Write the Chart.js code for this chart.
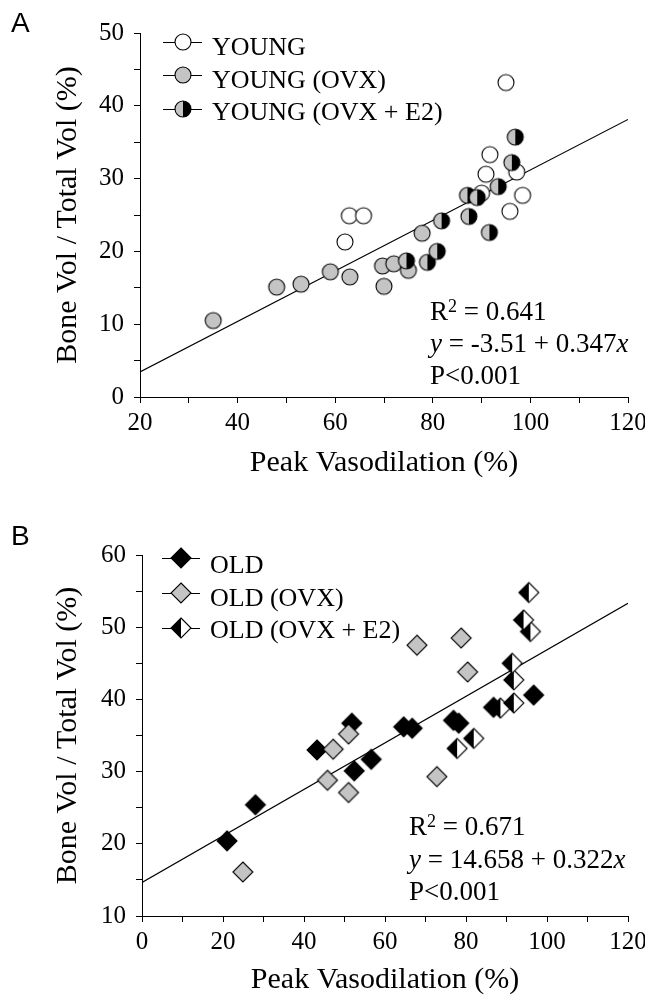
<!DOCTYPE html>
<html><head><meta charset="utf-8">
<script src="https://cdn.jsdelivr.net/npm/chart.js@4.4.1/dist/chart.umd.min.js"></script>
<style>
html,body{margin:0;padding:0;background:#fff;}
#wrap{position:relative;width:645px;height:1006px;overflow:hidden;}
#cA{position:absolute;left:0;top:0;}
#cB{position:absolute;left:0;top:500px;}
</style></head><body>
<div id="wrap"><canvas id="cA" width="645" height="500"></canvas><canvas id="cB" width="645" height="506"></canvas></div>
<script>
// ---------- Panel A data ----------
const youngX    = [62.0, 62.9, 65.8, 90.0, 90.9, 91.7, 95.0, 95.8, 97.2, 98.4];
const youngY    = [21.3, 24.9, 24.9, 28.0, 30.6, 33.3, 43.2, 25.5, 30.9, 27.7];
const youngOvxX = [35.0, 48.0, 53.0, 59.0, 63.0, 69.7, 70.0, 72.0, 75.0, 77.8];
const youngOvxY = [10.5, 15.1, 15.5, 17.2, 16.5, 18.0, 15.2, 18.3, 17.4, 22.5];
const youngE2X  = [74.6, 78.9, 80.9, 81.8, 87.4, 87.1, 89.1, 91.6, 93.4, 96.2, 96.9];
const youngE2Y  = [18.7, 18.5, 20.0, 24.2, 24.8, 27.7, 27.4, 22.6, 28.9, 32.2, 35.7];
const fitAX = [20, 120];
const fitAY = [3.43, 38.13];
const xTicksA = [20, 40, 60, 80, 100, 120];
const yTicksA = [0, 10, 20, 30, 40, 50];
const legendA = ['YOUNG', 'YOUNG (OVX)', 'YOUNG (OVX + E2)'];
const statsA = ['0.641', '-3.51', '0.347', 'P<0.001'];

// ---------- Panel B data ----------
const oldX    = [21.0, 28.0, 43.2, 51.8, 52.4, 56.6, 64.6, 66.7, 76.9, 78.2, 86.8, 96.7];
const oldY    = [20.4, 25.4, 33.0, 36.7, 30.1, 31.7, 36.2, 36.0, 37.1, 36.7, 38.9, 40.6];
const oldOvxX = [24.9, 45.8, 47.2, 51.0, 51.0, 72.8, 67.9, 78.8, 80.4];
const oldOvxY = [16.1, 28.8, 33.1, 35.2, 27.1, 29.3, 47.5, 48.5, 43.8];
const oldE2X  = [77.8, 81.9, 88.5, 91.8, 91.8, 91.4, 95.9, 94.2, 95.5];
const oldE2Y  = [33.2, 34.6, 38.8, 39.5, 42.7, 45.0, 49.4, 51.0, 54.8];
const fitBX = [0, 120];
const fitBY = [14.66, 53.30];
const xTicksB = [0, 20, 40, 60, 80, 100, 120];
const yTicksB = [10, 20, 30, 40, 50, 60];
const legendB = ['OLD', 'OLD (OVX)', 'OLD (OVX + E2)'];
const statsB = ['0.671', '14.658', '0.322', 'P<0.001'];

const SERIF = '"Liberation Serif", "Times New Roman", serif';
Chart.defaults.font.family = SERIF;
Chart.defaults.color = '#000';

const GRAY = '#c4c4c4';
function markerImg(shape, r, left, right) {
  const s = 2 * r + 4;
  const c = document.createElement('canvas');
  c.width = s; c.height = s;
  const g = c.getContext('2d');
  const m = s / 2;
  const path = () => {
    g.beginPath();
    if (shape === 'circle') g.arc(m, m, r, 0, 2 * Math.PI);
    else { g.moveTo(m, m - r); g.lineTo(m + r, m); g.lineTo(m, m + r); g.lineTo(m - r, m); g.closePath(); }
  };
  g.save(); g.beginPath(); g.rect(0, 0, m, s); g.clip(); path(); g.fillStyle = left; g.fill(); g.restore();
  g.save(); g.beginPath(); g.rect(m, 0, s - m, s); g.clip(); path(); g.fillStyle = right; g.fill(); g.restore();
  path(); g.strokeStyle = '#000'; g.lineWidth = 1.1; g.stroke();
  return c;
}
const mWhiteC = markerImg('circle', 8, '#fff', '#fff');
const mGrayC  = markerImg('circle', 8, GRAY, GRAY);
const mHalfC  = markerImg('circle', 8, GRAY, '#000');
const mBlackD = markerImg('diamond', 10, '#000', '#000');
const mGrayD  = markerImg('diamond', 10, GRAY, GRAY);
const mHalfD  = markerImg('diamond', 10, '#000', '#fff');

const pts = (xs, ys) => xs.map((x, i) => ({ x: x, y: ys[i] }));

const overlay = {
  id: 'overlay',
  afterDraw(chart, args, o) {
    const ctx = chart.ctx;
    ctx.save();
    ctx.fillStyle = '#000';
    ctx.textBaseline = 'alphabetic';
    ctx.textAlign = 'left';
    ctx.font = '28px "Liberation Sans", Arial, sans-serif';
    ctx.fillText(o.letter, 11, o.letterY);
    // legend
    o.legend.forEach((it, i) => {
      const y = o.legY[i];
      ctx.strokeStyle = '#000'; ctx.lineWidth = 1;
      ctx.beginPath(); ctx.moveTo(o.legX1, y + 0.5); ctx.lineTo(o.legX2, y + 0.5); ctx.stroke();
      const img = o.legImg[i];
      ctx.drawImage(img, o.legMx - img.width / 2, y - img.height / 2);
      ctx.font = '26px ' + SERIF;
      ctx.fillText(it, o.legTx, o.legTy[i]);
    });
    // stats
    const s = o.stats;
    const F = '27px ' + SERIF, FI = 'italic 27px ' + SERIF, FS = '18px ' + SERIF;
    const run = (segs, x, y) => {
      segs.forEach(sg => { ctx.font = sg[1]; ctx.fillText(sg[0], x, y + (sg[2] || 0)); x += ctx.measureText(sg[0]).width; });
    };
    run([['R', F], ['2', FS, -8], [' = ' + s[0], F]], o.stX, o.stY[0]);
    run([['y', FI], [' = ' + s[1] + ' + ' + s[2], F], ['x', FI]], o.stX, o.stY[1]);
    run([[s[3], F]], o.stX, o.stY[2]);
    ctx.restore();
  }
};

function makeScales(xMin, xMax, yMin, yMax, xTickLabels, yTickLabels, yWidth, xHeight, xTitlePadB) {
  const axisGrid = { display: true, drawOnChartArea: false, drawTicks: true, tickLength: 6, color: '#000', tickColor: '#000', tickWidth: 1 };
  return {
    x: {
      type: 'linear', min: xMin, max: xMax,
      ticks: { stepSize: 10, autoSkip: false, maxRotation: 0, padding: 5, color: '#000', font: { size: 25 },
        callback: v => xTickLabels.includes(v) ? String(v) : '' },
      grid: axisGrid,
      border: { display: true, color: '#000', width: 1 },
      title: { display: true, text: 'Peak Vasodilation (%)', color: '#000', font: { size: 30 }, padding: { top: 0, bottom: xTitlePadB } },
      afterFit: sc => { sc.height = xHeight; sc.paddingLeft = 0; sc.paddingRight = 0; }
    },
    y: {
      type: 'linear', min: yMin, max: yMax,
      ticks: { stepSize: 5, autoSkip: false, padding: 10, color: '#000', font: { size: 25 },
        callback: v => yTickLabels.includes(v) ? String(v) : '' },
      grid: axisGrid,
      border: { display: true, color: '#000', width: 1 },
      title: { display: true, text: 'Bone Vol / Total Vol (%)', color: '#000', font: { size: 30 }, padding: { top: 50, bottom: 0 } },
      afterFit: sc => { sc.width = yWidth; sc.paddingTop = 0; sc.paddingBottom = 0; }
    }
  };
}

const common = {
  responsive: false, animation: false, devicePixelRatio: 1,
  events: [],
  plugins: { legend: { display: false }, tooltip: { enabled: false } }
};

new Chart(document.getElementById('cA'), {
  type: 'scatter',
  data: { datasets: [
    { label: 'fit', data: pts(fitAX, fitAY), showLine: true, pointRadius: 0, borderColor: '#000', borderWidth: 1.2, order: 10 },
    { label: legendA[0], data: pts(youngX, youngY), pointStyle: mWhiteC, order: 3 },
    { label: legendA[1], data: pts(youngOvxX, youngOvxY), pointStyle: mGrayC, order: 2 },
    { label: legendA[2], data: pts(youngE2X, youngE2Y), pointStyle: mHalfC, order: 1 }
  ]},
  options: Object.assign({}, common, {
    layout: { padding: { left: 0, top: 33, right: 17, bottom: 0 } },
    scales: makeScales(20, 120, 0, 50, xTicksA, yTicksA, 140, 103, 19),
    plugins: Object.assign({}, common.plugins, {
      overlay: { letter: 'A', letterY: 32, legend: legendA, legImg: [mWhiteC, mGrayC, mHalfC],
        legX1: 163, legX2: 202, legMx: 183, legY: [42, 75, 109], legTx: 212, legTy: [55, 88, 120],
        stats: statsA, stX: 430, stY: [320, 352, 384] }
    })
  }),
  plugins: [overlay]
});

new Chart(document.getElementById('cB'), {
  type: 'scatter',
  data: { datasets: [
    { label: 'fit', data: pts(fitBX, fitBY), showLine: true, pointRadius: 0, borderColor: '#000', borderWidth: 1.2, order: 10 },
    { label: legendB[0], data: pts(oldX, oldY), pointStyle: mBlackD, order: 3 },
    { label: legendB[1], data: pts(oldOvxX, oldOvxY), pointStyle: mGrayD, order: 2 },
    { label: legendB[2], data: pts(oldE2X, oldE2Y), pointStyle: mHalfD, order: 1 }
  ]},
  options: Object.assign({}, common, {
    layout: { padding: { left: 0, top: 55, right: 17, bottom: 0 } },
    scales: makeScales(0, 120, 10, 60, xTicksB, yTicksB, 142, 90, 8),
    plugins: Object.assign({}, common.plugins, {
      overlay: { letter: 'B', letterY: 45, legend: legendB, legImg: [mBlackD, mGrayD, mHalfD],
        legX1: 162, legX2: 200, legMx: 181, legY: [58, 93, 128], legTx: 210, legTy: [73, 106, 138],
        stats: statsB, stX: 409, stY: [335, 368, 400] }
    })
  }),
  plugins: [overlay]
});
</script>
</body></html>
